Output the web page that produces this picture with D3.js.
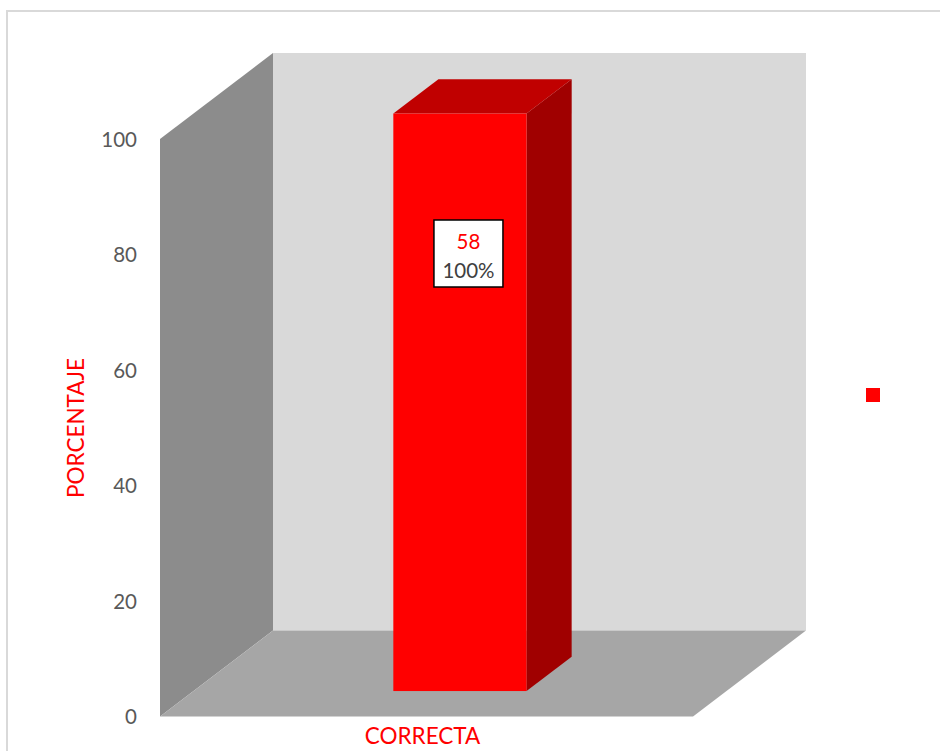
<!DOCTYPE html>
<html><head><meta charset="utf-8">
<script src="https://cdn.jsdelivr.net/npm/d3@7"></script>
<style>body{margin:0;background:#fff}svg{display:block}</style>
</head><body>
<svg id="c" width="940" height="751"></svg>
<script>
const categories = ["CORRECTA"];
const percentValues = [100];
const countValues = [58];
const percentLabels = ["100%"];
const yTicks = [0, 20, 40, 60, 80, 100];
const yTitle = "PORCENTAJE";

const svg = d3.select("#c");
const font = "Lato, 'Open Sans', sans-serif";
const DX = 113, DY = 86;
const y = d3.scaleLinear().domain([0, 100]).range([716.5, 139]);
const x = d3.scaleBand().domain(categories).range([160, 693]);
const P = (px, py, z) => [px + z * DX, py - z * DY];
const poly = pts => "M" + pts.map(p => p.join(",")).join("L") + "Z";

// frame
svg.append("rect").attr("x", 7).attr("y", 11).attr("width", 960).attr("height", 800)
  .attr("fill", "none").attr("stroke", "#d9d9d9").attr("stroke-width", 2);

const x0 = x.range()[0], x1 = x.range()[1];
const y0 = y(0), yTop = y(100);
// back wall
svg.append("path").attr("d", poly([P(x0, yTop, 1), P(x1, yTop, 1), P(x1, y0, 1), P(x0, y0, 1)])).attr("fill", "#d9d9d9");
// left wall
svg.append("path").attr("d", poly([P(x0, yTop, 0), P(x0, yTop, 1), P(x0, y0, 1), P(x0, y0, 0)])).attr("fill", "#8c8c8c");
// floor
svg.append("path").attr("d", poly([P(x0, y0, 0), P(x0, y0, 1), P(x1, y0, 1), P(x1, y0, 0)])).attr("fill", "#a6a6a6");

// bars
const zf = 0.296, zb = 0.695, barFrac = 0.25;
categories.forEach((c, i) => {
  const cx = x(c) + x.bandwidth() / 2;
  const w = x.bandwidth() * barFrac;
  const bl = cx - w / 2, br = cx + w / 2;
  const yb = y(0), yt = y(percentValues[i]);
  // side
  svg.append("path").attr("d", poly([P(br, yt, zf), P(br, yt, zb), P(br, yb, zb), P(br, yb, zf)])).attr("fill", "#a00000");
  // top
  svg.append("path").attr("d", poly([P(bl, yt, zf), P(bl, yt, zb), P(br, yt, zb), P(br, yt, zf)])).attr("fill", "#c00000");
  // front
  const fl = P(bl, yt, zf), fr = P(br, yb, zf);
  svg.append("rect").attr("x", fl[0]).attr("y", fl[1]).attr("width", fr[0] - fl[0]).attr("height", fr[1] - fl[1]).attr("fill", "#ff0000");
  // data label
  const bx = (fl[0] + fr[0]) / 2 + 8.5;
  const by = y(80) - 1;
  const g = svg.append("g").attr("transform", `translate(${bx},${by})`);
  g.append("rect").attr("x", -34.5).attr("y", -33.5).attr("width", 69).attr("height", 67)
    .attr("fill", "#fff").attr("stroke", "#000").attr("stroke-width", 1.5);
  g.append("text").attr("y", -4.5).attr("text-anchor", "middle").attr("font-family", font)
    .attr("font-size", 20.5).attr("fill", "#ff0000").text(countValues[i]);
  g.append("text").attr("y", 24.5).attr("text-anchor", "middle").attr("font-family", font)
    .attr("font-size", 20.5).attr("fill", "#404040").text(percentLabels[i]);
});

// y axis
const yAxis = d3.axisLeft(y).tickValues(yTicks).tickSize(0).tickPadding(0);
const ga = svg.append("g").attr("transform", "translate(137,0)").call(yAxis);
ga.select(".domain").remove();
ga.selectAll("text").attr("font-family", font).attr("font-size", 20.5).attr("fill", "#595959").attr("dy", "0.35em");

// x axis label
categories.forEach(c => {
  svg.append("text").attr("x", x(c) + x.bandwidth() / 2 - 4).attr("y", 744)
    .attr("text-anchor", "middle").attr("font-family", font).attr("font-size", 22.5)
    .attr("fill", "#ff0000").text(c);
});

// y title
svg.append("text").attr("transform", "translate(84,428) rotate(-90)")
  .attr("text-anchor", "middle").attr("font-family", font).attr("font-size", 22.5)
  .attr("fill", "#ff0000").text(yTitle);

// legend marker
svg.append("rect").attr("x", 866).attr("y", 388).attr("width", 14).attr("height", 14).attr("fill", "#ff0000");
</script>
</body></html>
